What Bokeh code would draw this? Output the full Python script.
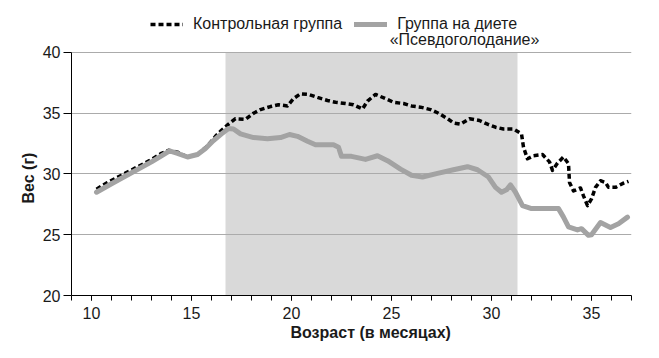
from bokeh.plotting import figure
from bokeh.models import (FixedTicker, Legend, LegendItem, Title, Label, Range1d)
from bokeh.embed import file_html
from bokeh.resources import INLINE

# ---- data ----
control_age = [10.25, 10.8, 11.5, 12.2, 12.9, 13.5, 13.85, 14.3, 14.8, 15.3, 15.8, 16.2, 16.5, 16.85,
               17.2, 17.7, 18.1, 18.45, 18.95, 19.35, 19.8, 20.1, 20.45, 20.85, 21.3, 21.8, 22.2, 22.7,
               23.1, 23.55, 23.8, 24.2, 24.7, 25.1, 25.6, 26.0, 26.45, 26.95, 27.35, 27.8, 28.1, 28.45,
               28.9, 29.4, 29.8, 30.2, 30.6, 31.1, 31.5, 31.6, 31.8, 32.1, 32.55, 32.9, 33.05, 33.3,
               33.6, 33.85, 33.9, 34.1, 34.45, 34.6, 34.8, 35.0, 35.2, 35.45, 35.7, 35.85, 36.2, 36.6, 36.85]
control_weight = [28.75, 29.3, 29.9, 30.5, 31.1, 31.7, 31.95, 31.8, 31.4, 31.6, 32.3, 33.1, 33.6, 34.1,
                  34.55, 34.5, 35.0, 35.3, 35.55, 35.7, 35.6, 36.2, 36.6, 36.55, 36.3, 36.05, 35.9, 35.8,
                  35.7, 35.35, 36.0, 36.55, 36.2, 35.9, 35.8, 35.6, 35.5, 35.3, 35.0, 34.55, 34.2, 34.1,
                  34.55, 34.4, 34.1, 33.85, 33.7, 33.7, 33.3, 32.2, 31.25, 31.5, 31.6, 31.0, 30.3, 30.9,
                  31.4, 30.85, 29.3, 28.6, 28.85, 28.2, 27.4, 27.95, 28.9, 29.45, 29.3, 28.9, 28.9, 29.25, 29.4]

diet_age = [10.25, 11.0, 12.0, 13.0, 13.6, 13.9, 14.3, 14.8, 15.3, 15.7, 16.1, 16.5, 16.85, 17.1, 17.45,
            18.1, 18.8, 19.45, 19.9, 20.3, 20.8, 21.2, 21.6, 22.1, 22.35, 22.5, 23.0, 23.7, 24.3, 24.8,
            25.45, 26.0, 26.55, 27.3, 28.1, 28.8, 29.3, 29.85, 30.2, 30.5, 30.75, 30.95, 31.2, 31.55,
            32.0, 32.6, 33.35, 33.6, 33.85, 34.3, 34.5, 34.85, 35.0, 35.45, 35.95, 36.35, 36.8]
diet_weight = [28.5, 29.2, 30.1, 31.0, 31.6, 31.9, 31.7, 31.4, 31.6, 32.1, 32.75, 33.3, 33.75, 33.7, 33.3,
               33.0, 32.9, 33.0, 33.25, 33.1, 32.7, 32.4, 32.4, 32.4, 32.2, 31.45, 31.45, 31.2, 31.5, 31.1,
               30.4, 29.9, 29.75, 30.05, 30.35, 30.6, 30.35, 29.75, 28.9, 28.5, 28.7, 29.1, 28.5, 27.4,
               27.15, 27.15, 27.15, 26.45, 25.65, 25.4, 25.5, 24.95, 25.0, 26.0, 25.6, 25.9, 26.45]

diet_period = [16.7, 31.3]
x_major_ticks = [10, 15, 20, 25, 30, 35]
x_minor_ticks = list(range(9, 38))
y_ticks = [20, 25, 30, 35, 40]

label_control = "Контрольная группа"
label_diet_1 = "Группа на диете"
label_diet_2 = "«Псевдоголодание»"
x_title = "Возраст (в месяцах)"
y_title = "Вес (г)"

FONT = "Liberation Sans"
TXT = "#1a1a1a"
FS = "16px"

# frame extends above 40 to host the legend (axis/grid limited to 20..40)
p = figure(width=651, height=350, output_backend="svg", toolbar_location=None, title=None,
           x_range=Range1d(9, 37), y_range=Range1d(20, 43.62),
           min_border_left=71, min_border_right=20, min_border_top=8, min_border_bottom=55)
p.outline_line_color = None
p.background_fill_color = "white"

# shaded diet period
shade = p.quad(left=[diet_period[0]], right=[diet_period[1]], bottom=[y_ticks[0]], top=[y_ticks[-1]],
               fill_color="#d9d9d9", line_color=None)
shade.level = "image"

# grid
p.xgrid.visible = False
p.ygrid.grid_line_color = "#ababab"
p.ygrid.grid_line_width = 1

# axes
xa = p.xaxis[0]
xa.ticker = FixedTicker(ticks=x_major_ticks, minor_ticks=x_minor_ticks)
xa.major_tick_out = 5
xa.major_tick_in = 0
xa.minor_tick_out = 5
xa.minor_tick_in = 0
xa.minor_tick_line_color = "black"
xa.major_tick_line_color = "black"
xa.axis_line_color = "black"
xa.major_label_text_font = FONT
xa.major_label_text_font_size = FS
xa.major_label_text_color = TXT
xa.major_label_standoff = 6

ya = p.yaxis[0]
ya.ticker = FixedTicker(ticks=y_ticks, minor_ticks=[])
ya.bounds = (y_ticks[0], y_ticks[-1])
ya.major_tick_out = 8
ya.major_tick_in = 0
ya.major_tick_line_color = "black"
ya.axis_line_color = "black"
ya.major_label_text_font = FONT
ya.major_label_text_font_size = FS
ya.major_label_text_color = TXT
ya.major_label_standoff = 3

# lines
r_ctrl = p.line(control_age, control_weight, line_color="black", line_width=3.5,
                line_dash="5 3", line_join="round")
r_diet = p.line(diet_age, diet_weight, line_color="#a3a3a3", line_width=5,
                line_join="round", line_cap="round")

# legend
legend = Legend(items=[LegendItem(label=label_control, renderers=[r_ctrl]),
                       LegendItem(label=label_diet_1, renderers=[r_diet])],
                orientation="horizontal", location=(79, 262),
                glyph_width=33, glyph_height=16, label_standoff=10, spacing=12,
                padding=0, margin=0, border_line_color=None, background_fill_alpha=0,
                label_text_font=FONT, label_text_font_size=FS, label_text_color=TXT)
p.add_layout(legend, "center")

# second line of the diet legend label
p.add_layout(Label(x=28.65, y=41.05, x_units="data", y_units="data", text=label_diet_2,
                   text_align="center", text_baseline="middle", text_font=FONT,
                   text_font_size=FS, text_color=TXT))

# axis titles
p.add_layout(Title(text=x_title, align="left", offset=219, standoff=0,
                   text_font=FONT, text_font_size=FS, text_font_style="bold",
                   text_color=TXT), "below")
p.add_layout(Title(text=y_title, align="left", offset=92, standoff=6,
                   text_font=FONT, text_font_size=FS, text_font_style="bold",
                   text_color=TXT), "left")

open("out.html", "w").write(file_html(p, INLINE))
